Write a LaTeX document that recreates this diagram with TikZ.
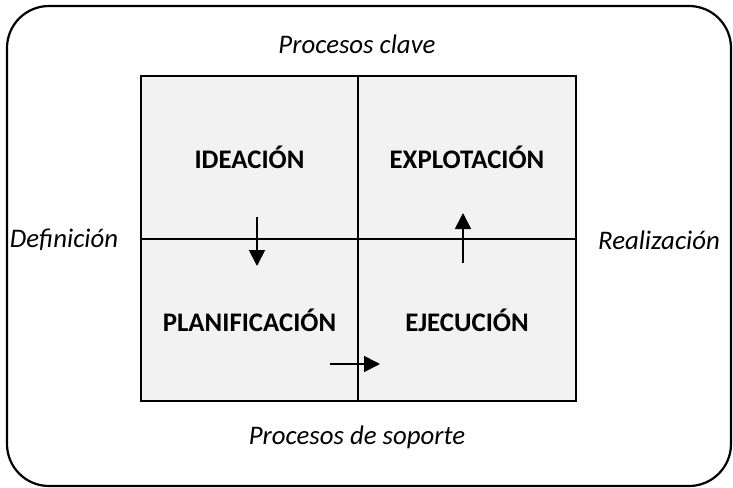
\documentclass[tikz,border=0pt]{standalone}
\usepackage{fontspec}
\setmainfont{Carlito}
\usepackage{tikz}
\usetikzlibrary{positioning,arrows.meta,calc}
\definecolor{cellgray}{RGB}{242,242,242}

\begin{document}
\begin{tikzpicture}[
  x=0.5pt, y=-0.5pt,
  cell/.style={draw, line width=1pt, fill=cellgray, inner sep=0pt,
               font=\fontsize{13.4}{15}\selectfont\bfseries},
  side/.style={font=\fontsize{13.4}{15}\selectfont\itshape, inner sep=1pt},
  flow/.style={-{Triangle[length=8pt,width=8pt]}, line width=0.85pt},
]
  \useasboundingbox (0,0) rectangle (733,487);

  % --- Outer frame ---
  \draw[line width=1.1pt, rounded corners=21pt] (7,6) rectangle (731,486);

  % --- Quadrants ---
  \node[cell, minimum width=108.5pt, minimum height=81.5pt, anchor=north west]
    (ideacion) at (140,75) {IDEACIÓN};
  \node[cell, minimum width=109pt, minimum height=81.5pt, anchor=north west]
    (explotacion) at (357,75) {EXPLOTACIÓN};
  \node[cell, minimum width=108.5pt, minimum height=81pt, anchor=north west]
    (planificacion) at (140,238) {PLANIFICACIÓN};
  \node[cell, minimum width=109pt, minimum height=81pt, anchor=north west]
    (ejecucion) at (357,238) {EJECUCIÓN};

  % --- Labels round the grid ---
  \node[side] (clave)      at (357,44)  {Procesos clave};
  \node[side] (soporte)    at (357,437) {Procesos de soporte};
  \node[side] (definicion) at (64,240)  {Definición};
  \node[side] (realizacion) at (659,240) {Realización};

  % --- Flow arrows ---
  \coordinate (d1) at (257,217);
  \coordinate (d2) at (257,266);
  \coordinate (r1) at (330,364);
  \coordinate (r2) at (380,364);
  \coordinate (u1) at (463,263);
  \coordinate (u2) at (463,213);
  \draw[flow] (d1) -- (d2);
  \draw[flow] (r1) -- (r2);
  \draw[flow] (u1) -- (u2);

\end{tikzpicture}
\end{document}
